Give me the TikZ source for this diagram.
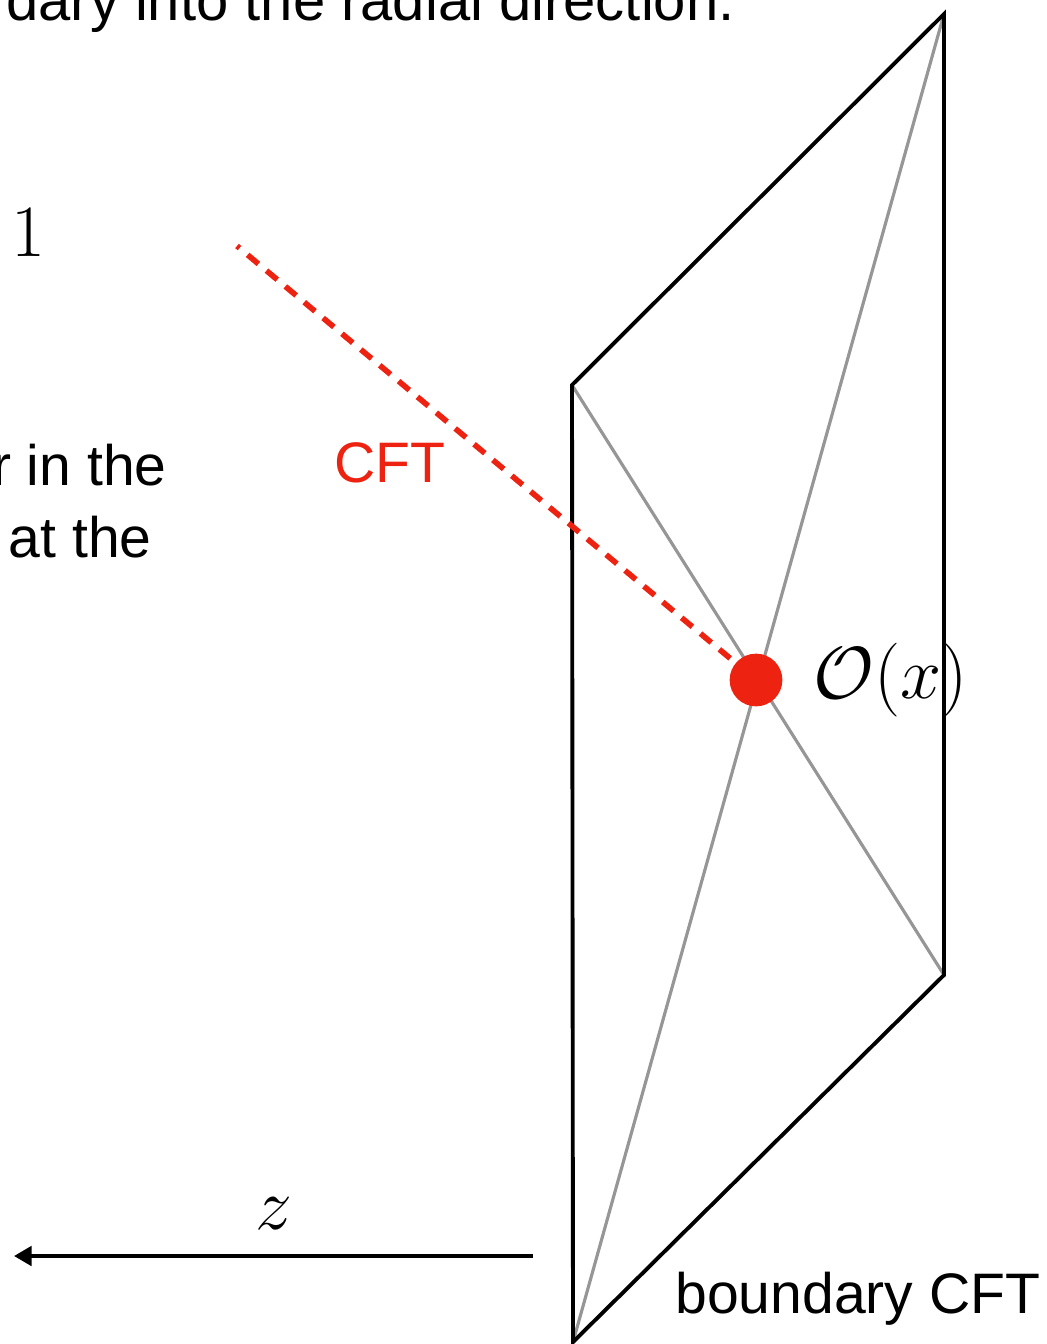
\RequirePackage{fix-cm}
\documentclass[tikz,border=0pt]{standalone}
\usepackage{fontspec}
\newfontfamily\labelfont{Liberation Sans}
\usepackage{tikz}
\usetikzlibrary{arrows.meta, positioning}
\definecolor{cftred}{HTML}{EE2211}
\definecolor{cftgray}{HTML}{969696}

\begin{document}
\begin{tikzpicture}[
    x=0.02cm, y=-0.02cm,
    frame/.style={black, line width=2.2pt, line join=miter},
    diag/.style={cftgray, line width=1.8pt},
    txt/.style={inner sep=0pt, font=\labelfont\fontsize{32.5}{39}\selectfont},
    mathlbl/.style={inner sep=0pt, font=\fontsize{42}{50}\selectfont},
    opdot/.style={circle, fill=cftred, minimum size=30pt, inner sep=0pt},
    bulkline/.style={cftred, line width=3.2pt, dash pattern=on 8pt off 6pt, dash phase=10pt},
    arr/.style={-{Triangle[length=10pt, width=11pt]}, black, line width=2.2pt},
  ]
  \useasboundingbox (0,0) rectangle (1046,1344);

  % Boundary plane
  \coordinate (tl) at (572,385);
  \coordinate (tr) at (944,14);
  \coordinate (br) at (944,975);
  \coordinate (bl) at (573,1342);
  \draw[diag] (tl) -- (br);
  \draw[diag] (tr) -- (bl);
  \draw[frame] (tl) -- (tr) -- (br) -- (bl) -- cycle;

  % Operator insertion
  \node[opdot] (op) at (756,680) {};
  \node[mathlbl, right=0.61cm of op] (oplbl) {$\mathcal{O}(x)$};
  \coordinate (far) at (237,246);
  \draw[bulkline] (op) -- (far);

  % Texts
  \node[txt, font=\labelfont\fontsize{33}{40}\selectfont, anchor=base east] (title) at (735,21) {dary into the radial direction.};
  \node[mathlbl, anchor=base] (one) at (28,257) {$1$};
  \node[txt, anchor=base east] (line1) at (167,485) {r in the};
  \node[txt, anchor=base east] (line2) at (152,557) {at the};
  \node[txt, anchor=base east, text=cftred] (cft) at (446,482) {CFT};
  \node[txt, anchor=base west] (bdy) at (675,1313) {boundary CFT};

  % Radial arrow
  \coordinate (zstart) at (533,1256);
  \coordinate (zend) at (14,1256);
  \draw[arr] (zstart) -- node[mathlbl, above=0.5cm] (zlbl) {$z$} (zend);

\end{tikzpicture}
\end{document}
